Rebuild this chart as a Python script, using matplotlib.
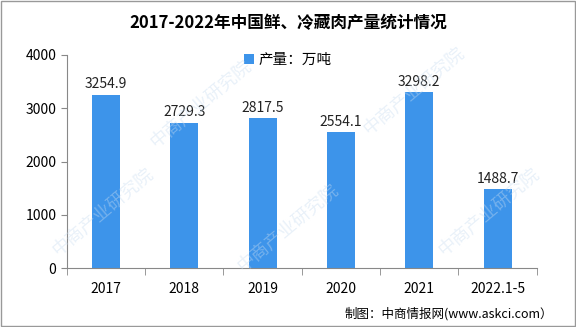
import matplotlib
matplotlib.use('Agg')
from matplotlib import pyplot as plt
import numpy as np

plt.rcParams['font.family'] = ['Noto Sans CJK SC', 'DejaVu Sans']

categories = ['2017', '2018', '2019', '2020', '2021', '2022.1-5']
values = [3254.9, 2729.3, 2817.5, 2554.1, 3298.2, 1488.7]
bar_color = '#3d94ea'

fig = plt.figure(figsize=(5.76, 3.27), dpi=100)
ax = fig.add_axes([0.116, 0.18, 0.816, 0.652])

x = np.arange(len(categories))
ax.bar(x, values, width=0.36, color=bar_color, label='产量：万吨', zorder=2)
for xi, v in zip(x, values):
    ax.text(xi, v + 60, f'{v}', ha='center', va='bottom', fontsize=10, color='#222222', zorder=3)

ax.set_xlim(-0.5, len(categories) - 0.5)
ax.set_ylim(0, 4000)
ax.set_yticks([0, 1000, 2000, 3000, 4000])
ax.set_xticks(x)
ax.set_xticklabels(categories, fontsize=10)
ax.set_xticks(np.arange(-0.5, len(categories)), minor=True)
ax.tick_params(axis='x', which='major', length=0, pad=10)
ax.tick_params(axis='x', which='minor', length=5, color='#888888')
ax.tick_params(axis='y', length=4, color='#888888', labelsize=10)
for s in ['top', 'right']:
    ax.spines[s].set_visible(False)
for s in ['left', 'bottom']:
    ax.spines[s].set_color('#888888')

ax.legend(loc='upper center', bbox_to_anchor=(0.47, 1.07), frameon=False, fontsize=10.5,
          handlelength=0.7, handleheight=0.7, handletextpad=0.3)

fig.text(0.5, 0.93, '2017-2022年中国鲜、冷藏肉产量统计情况', ha='center', va='center',
         fontsize=12, fontweight='bold')
fig.text(0.96, 0.04, '制图：中商情报网(www.askci.com）', ha='right', va='center', fontsize=9)

# watermarks
for wx, wy in [(0.18, 0.35), (0.5, 0.3), (0.85, 0.35), (0.35, 0.68), (0.72, 0.72)]:
    fig.text(wx, wy, '中商产业研究院', rotation=40, fontsize=13, color='#c8dcf0',
             alpha=0.4, ha='center', va='center', zorder=0)

fig.patches.append(plt.Rectangle((0.002, 0.003), 0.996, 0.994, transform=fig.transFigure,
                                 fill=False, edgecolor='#999999', linewidth=1))

fig.savefig('out.png', dpi=100)
